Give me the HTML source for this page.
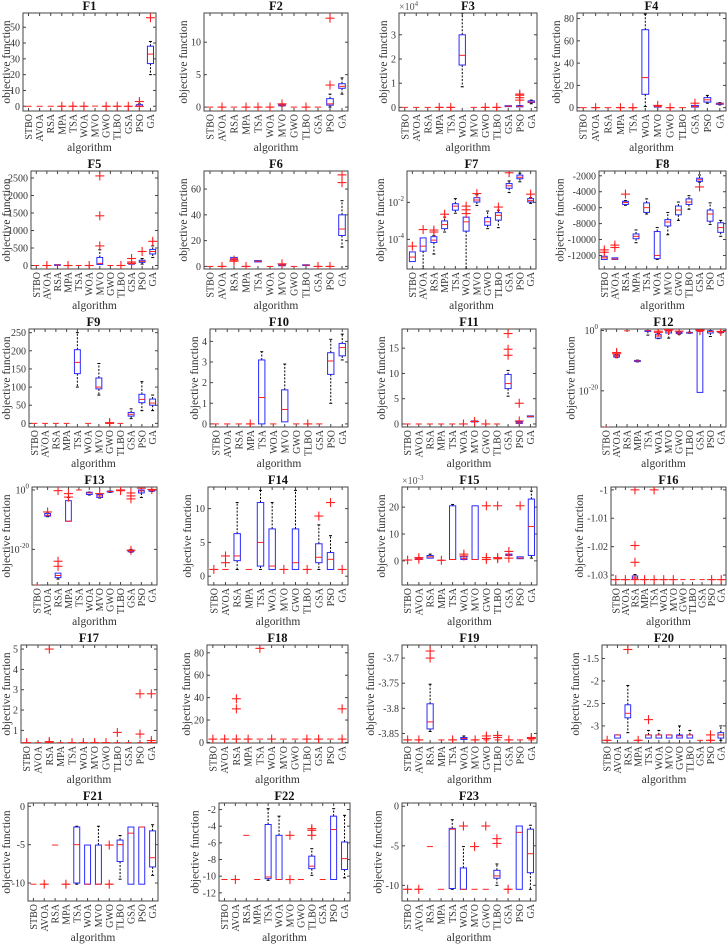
<!DOCTYPE html>
<html><head><meta charset="utf-8"><style>
html,body{margin:0;padding:0;background:#fff;}
svg{display:block;}
svg text{font-family:"Liberation Serif","Times New Roman",serif;}
</style></head><body>
<svg id="fig" width="728" height="944" viewBox="0 0 728 944" font-family="Liberation Serif, serif"></svg>
<script>
const algorithms=['STBO','AVOA','RSA','MPA','TSA','WOA','MVO','GWO','TLBO','GSA','PSO','GA'];
const panelTitles=['F1','F2','F3','F4','F5','F6','F7','F8','F9','F10','F11','F12','F13','F14','F15','F16','F17','F18','F19','F20','F21','F22','F23'];
const logScale=[0,0,0,0,0,0,1,0,0,0,0,1,1,0,0,0,0,0,0,0,0,0,0];
const yLimits=[[-3,59],[-0.6,14.5],[-0.15,3.9],[-3,85],[-100,2700],[-2,74],[2.5e-6,0.5],[-13700,-1400],[-10,260],[-0.15,4.6],[-0.6,18.8],[1e-32,3.2],[1e-32,10],[-1.3,13.2],[-9,27.5],[-1.0335,-0.999],[0.38,5.2],[-0.5,87],[-3.869,-3.674],[-3.38,-1.2],[-12.34,0.43],[-12.98,-1.22],[-11.98,0.41]];
const yTicks=[[0,10,20,30,40,50],[0,5,10],[0,1,2,3],[0,20,40,60,80],[0,500,1000,1500,2000,2500],[0,20,40,60],[1e-4,1e-2],[-12000,-10000,-8000,-6000,-4000,-2000],[0,50,100,150,200,250],[0,1,2,3,4],[0,5,10,15],[1e-20,1],[1e-20,1],[0,5,10],[0,10,20],[-1.03,-1.02,-1.01,-1],[1,2,3,4,5],[0,20,40,60,80],[-3.85,-3.8,-3.75,-3.7],[-3,-2.5,-2,-1.5],[-10,-5,0],[-12,-10,-8,-6,-4,-2],[-10,-5,0]];
const yTickLabels=[null,null,null,null,null,null,[['10','-4'],['10','-2']],null,null,null,null,[['10','-20'],['10','0']],[['10','-20'],['10','0']],null,null,null,null,null,null,null,null,null,null];
const exponentLabels=[null,null,'4',null,null,null,null,null,null,null,null,null,null,null,'-3',null,null,null,null,null,null,null,null];
const N=null;
const medians=[
[0,0,0,0,0,0,0.1,0,0,0,0,33],
[0,0,0,0,0,0,0.3,0,0,0,0.5,3.2],
[0,0,0,0,0,2.15,0,0,0,0.05,0.04,0.22],
[0,0,0,0,0,27,1,0,0,1,7,3.5],
[0,0,15,0,0,0,60,0,0,50,120,400],
[0,0,6,0,4,0,1,0,1,0,0,29],
[1.1e-5,4.3e-5,9.1e-5,6.3e-4,6.3e-3,8.9e-4,1.35e-2,8.9e-4,2e-3,7.9e-2,2.3e-1,1.25e-2],
[-12300,-12450,-5350,-9600,-6000,-12000,-7800,-6300,-5300,-2500,-6800,-8500],
[0,0,0,0,168,0,100,0,0,25,66,56],
[0,0,0,0,1.28,0,0.7,0,0,0,3.05,3.7],
[0,0,0,0,0,0,0.5,0,0,8,0.2,1.5],
[1e-32,4e-9,0.8,8e-11,0.9,1.5e-2,0.6,0.16,0.2,0.5,0.5,0.3],
[1e-32,3e-9,1.6e-29,3e-11,1,0.1,0.01,0.3,0.6,3e-21,0.5,0.6],
[1,1,3,1,5,1.5,1,2,1,2.8,2.5,1],
[0.3,0.8,1.5,0.2,0.5,0.8,0.5,0.5,0.8,2.2,1,12.8],
[-1.0316,-1.0316,-1.031,-1.0316,-1.0316,-1.0316,-1.0316,-1.0316,-1.0316,-1.0316,-1.0316,-1.0316],
[0.398,0.398,0.398,0.398,0.398,0.398,0.398,0.398,0.398,0.398,0.398,0.398],
[3,3,3,3,3,3,3,3,3,3,3,3],
[-3.8628,-3.8628,-3.827,-3.8628,-3.8628,-3.860,-3.8628,-3.8628,-3.8628,-3.8628,-3.8628,-3.8628],
[-3.32,-3.2,-2.72,-3.32,-3.2,-3.2,-3.2,-3.22,-3.2,-3.32,-3.32,-3.2],
[-10.15,-10.15,-5.05,-10.15,-5,-10.15,-10.15,-10.15,-5,-3.5,-2.7,-6.7],
[-10.4,-10.4,-5.1,-10.4,-10.1,-10.4,-10.4,-10.4,-8.8,-10.4,-4.4,-7.9],
[-10.5,-10.5,-5.1,-10.5,-2.9,-10.5,-10.5,-10.5,-8.8,-10.5,-3.3,-6]];
const q1s=[
[N,N,N,N,N,N,N,N,N,N,0,27],
[N,N,N,N,N,N,0.2,N,N,N,0.3,2.9],
[N,N,N,N,N,1.75,N,N,N,0.03,0.02,0.2],
[N,N,N,N,N,12,0.5,N,N,0.5,5,3],
[N,N,10,N,N,N,30,N,N,40,90,330],
[N,N,5.5,N,3.5,N,0.5,N,0.7,N,N,24],
[6.3e-6,2.3e-5,6.8e-5,3.8e-4,3.8e-3,2.8e-4,1.05e-2,5.8e-4,1.1e-3,5.8e-2,1.9e-1,1.05e-2],
[-12500,-12500,-5600,-9900,-6600,-12400,-8300,-6900,-5600,-2700,-7700,-9100],
[N,N,N,N,137,N,95,N,N,20,57,50],
[N,N,N,N,0,N,0.1,N,N,N,2.4,3.3],
[N,N,N,N,N,N,0.4,N,N,7,0.1,1.4],
[N,1.6e-9,N,5e-11,0.5,3e-3,0.15,0.1,0.15,3e-21,0.15,0.2],
[N,1.6e-9,3e-30,3e-11,N,0.03,3e-3,0.2,N,1.5e-21,0.1,0.4],
[N,N,2.3,N,1.5,1,N,1,N,2,1,N],
[N,0.5,1,N,0.5,0.5,0.5,N,N,2,0.8,2],
[N,N,-1.0315,N,N,N,N,N,N,N,N,N],
[N,N,N,N,N,N,N,N,N,N,N,N],
[N,N,N,N,N,N,N,N,N,N,N,N],
[N,N,-3.841,N,N,-3.862,N,N,N,N,N,N],
[N,-3.27,-2.82,N,-3.27,-3.27,-3.27,-3.27,-3.27,N,N,-3.27],
[N,N,N,N,-10,-10.15,-10.15,N,-7.2,-10.15,-10.15,-7.9],
[N,N,N,N,-10.3,-10.4,N,N,-9.1,N,-10.4,-9.2],
[N,N,N,N,-10.4,-10.5,N,N,-9.1,N,-10.5,-8.4]];
const q3s=[
[N,N,N,N,N,N,N,N,N,N,1,38],
[N,N,N,N,N,N,0.4,N,N,N,1.3,3.6],
[N,N,N,N,N,3.0,N,N,N,0.07,0.07,0.27],
[N,N,N,N,N,70,1.5,N,N,2,9,4],
[N,N,25,N,N,N,230,N,N,60,150,460],
[N,N,7,N,4.5,N,1.5,N,1.3,N,N,40],
[2.1e-5,1.2e-4,1.4e-4,1e-3,8.5e-3,1.6e-3,1.8e-2,1.5e-3,2.8e-3,1.05e-1,3e-1,1.6e-2],
[-12100,-12300,-5200,-9300,-5400,-9000,-7500,-5800,-4900,-2300,-6300,-7900],
[N,N,N,N,203,N,125,N,N,30,80,67],
[N,N,N,N,3.1,N,1.65,N,N,N,3.45,3.9],
[N,N,N,N,N,N,0.6,N,N,9.8,0.4,1.6],
[N,8e-9,N,1.2e-10,1,6e-2,0.8,0.3,0.25,0.6,0.8,0.4],
[N,1.2e-8,1e-28,2.5e-4,N,0.16,0.03,0.4,N,6e-21,1,1],
[N,N,6.3,N,10.9,7,N,7,N,4.8,3.5,N],
[N,1,2,N,20.5,1.5,20.5,N,N,2.5,1.5,23],
[N,N,-1.0303,N,N,N,N,N,N,N,N,N],
[N,N,N,N,N,N,N,N,N,N,N,N],
[N,N,N,N,N,N,N,N,N,N,N,N],
[N,N,-3.791,N,N,-3.858,N,N,N,N,N,N],
[N,-3.2,-2.53,N,-3.2,-3.2,-3.2,-3.2,-3.2,N,N,-3.15],
[N,N,N,N,-2.7,-5.05,-5.05,N,-4.4,-2.7,-2.7,-3.2],
[N,N,N,N,-3.8,-5.1,N,N,-7.6,N,-2.8,-5.9],
[N,N,N,N,-2.8,-7.8,N,N,-8.1,N,-2.5,-2.9]];
const whiskLo=[
[N,N,N,N,N,N,N,N,N,N,0,20],
[N,N,N,N,N,N,0.15,N,N,N,0,2],
[N,N,N,N,N,0.85,N,N,N,0.03,0.02,0.15],
[N,N,N,N,N,1,0.5,N,N,0.5,4,2.5],
[N,N,10,N,N,N,30,N,N,40,40,230],
[N,N,5.5,N,3.5,N,0.5,N,0.7,N,N,15],
[6.3e-6,2.5e-6,1.6e-5,2.5e-4,2.6e-3,2.5e-6,6.9e-3,3.8e-4,4.3e-4,3.4e-2,1.3e-1,8.9e-3],
[-12500,-12500,-5700,-10400,-6800,-12500,-9400,-7600,-6200,-2800,-8100,-9600],
[N,N,N,N,100,N,78,N,N,13,35,35],
[N,N,N,N,0,N,0.1,N,N,N,1,3.1],
[N,N,N,N,N,N,0.4,N,N,5.5,0.1,1.4],
[N,1e-9,N,4e-11,0.03,2e-3,3e-3,0.05,0.12,3e-21,0.01,0.15],
[N,1e-9,1e-30,3e-11,N,0.02,2e-3,0.15,N,1e-21,3e-3,0.3],
[N,N,1,N,1,1,N,1,N,1,1,N],
[N,0.5,1,N,0.5,0.5,0.5,N,N,2,0.8,1],
[N,N,-1.0316,N,N,N,N,N,N,N,N,N],
[N,N,N,N,N,N,N,N,N,N,N,N],
[N,N,N,N,N,N,N,N,N,N,N,N],
[N,N,-3.846,N,N,-3.862,N,N,N,N,N,N],
[N,-3.27,-3.15,N,-3.27,-3.27,-3.27,-3.27,-3.27,N,N,-3.32],
[N,N,N,N,-10.15,-10.15,-10.15,N,-9.5,-10.15,-10.15,-9],
[N,N,N,N,-10.5,-10.4,N,N,-9.9,N,-10.4,-10.2],
[N,N,N,N,-10.5,-10.5,N,N,-10,N,-10.5,-10.5]];
const whiskHi=[
[N,N,N,N,N,N,N,N,N,N,1.5,41],
[N,N,N,N,N,N,0.5,N,N,N,2,4.5],
[N,N,N,N,N,3.9,N,N,N,0.07,0.08,0.3],
[N,N,N,N,N,84,1.5,N,N,2,11,4.5],
[N,N,25,N,N,N,450,N,N,60,200,560],
[N,N,7,N,4.5,N,1.5,N,1.3,N,N,51],
[2.1e-5,1.2e-4,1.6e-4,1.6e-3,1.6e-2,1.6e-3,2.6e-2,3.4e-3,3.8e-3,1.45e-1,3.8e-1,1.8e-2],
[-12100,-12300,-5100,-8800,-4900,-8500,-6600,-5300,-4500,-1900,-5400,-7600],
[N,N,N,N,250,N,165,N,N,40,115,78],
[N,N,N,N,3.5,N,2.9,N,N,N,4.1,4.35],
[N,N,N,N,N,N,0.6,N,N,10.6,0.4,1.6],
[N,1.2e-8,N,1.5e-10,1,0.1,1,0.4,0.3,0.6,1,0.5],
[N,1.5e-8,1e-28,3e-3,N,0.2,0.05,0.5,N,1e-20,1,1],
[N,N,10.9,N,12.7,10.9,N,12.7,N,7.6,6,N],
[N,1.2,2.5,N,21,1.8,20.5,N,N,2.5,1.5,26],
[N,N,-1.0298,N,N,N,N,N,N,N,N,N],
[N,N,N,N,N,N,N,N,N,N,N,N],
[N,N,N,N,N,N,N,N,N,N,N,N],
[N,N,-3.752,N,N,-3.855,N,N,N,N,N,N],
[N,-3.2,-2.1,N,-3.1,-3.1,-3.2,-3.0,-3.1,N,N,-3.0],
[N,N,N,N,-2.6,-5.05,-2.6,N,-3.8,-2.7,-2.7,-2.4],
[N,N,N,N,-1.9,-2.8,N,N,-6.7,N,-1.9,-2.7],
[N,N,N,N,-1.7,-5.1,N,N,-7.3,N,-2.5,-2.4]];
const outliers=[
[[],[],[],[0],[0],[0],[],[0],[0],[0],[0,3],[56]],
[[],[0],[],[0],[0],[0],[0.5],[],[0],[],[3.4,13.7],[]],
[[],[],[],[0],[0],[],[],[0],[0],[],[0.3,0.4,0.5,0.55],[]],
[[],[0],[],[0],[0],[],[2],[0],[],[4],[],[]],
[[],[0],[],[0],[],[0],[560,1420,2560],[],[0],[60,100,200],[400],[690]],
[[],[0],[4,5],[0],[],[],[2],[],[],[0],[0],[65,71]],
[[4.3e-5],[3.4e-4],[2.5e-4,3.2e-4],[2.3e-3],[],[2.5e-3,4e-3,6.3e-3],[3e-2],[],[5.6e-3],[4e-1],[],[2.8e-2]],
[[-11300,-11600],[-10700,-11000],[-4300],[],[],[],[],[],[],[-3400],[],[]],
[[],[],[],[],[],[],[],[0,2],[],[],[],[]],
[[],[],[],[0],[],[],[],[],[0],[],[],[]],
[[],[],[],[],[],[0],[0.5],[0],[],[13.6,14.8,17.9],[0.6,4.1],[]],
[[],[2e-8,5e-8],[],[],[],[0.25,0.6],[1.5,2],[0.6],[],[0.9,1.2,1.5],[],[0.5]],
[[],[4e-8],[1e-24,2e-26,0.6],[0.06,4e-3],[],[],[0.06],[],[1,0.6],[5e-21,0.1,0.01,1e-3],[4],[1.5]],
[[1],[2,3],[],[],[],[],[1],[],[1],[8.9],[10.9],[1]],
[[0.3],[1.2,0.6],[],[0.2],[],[1.8,2.5],[],[20.5,0.5,1.2],[20.5,0.8,1.2],[3.5,1],[20.5],[]],
[[-1.0316],[-1.0316],[-1.0,-1.0196,-1.0255,-1.0316],[-1.0316],[-1.0,-1.0316],[-1.0316],[-1.0316],[],[],[],[-1.0316],[-1.0316]],
[[0.398],[],[0.45,5.0,0.398],[],[0.398],[0.398],[0.398],[0.398],[0.9],[],[0.82,2.8],[0.5,2.8,0.4]],
[[3],[3],[3,30,39],[3],[84],[3],[],[],[3],[3],[],[3,30]],
[[-3.8628],[-3.8628],[-3.70,-3.686],[],[-3.8628],[],[-3.8628],[-3.855,-3.860],[-3.854,-3.858],[-3.8628],[],[-3.86,-3.858]],
[[-3.32],[],[-1.3],[-3.32],[-2.86],[],[],[],[],[],[-3.32,-3.2],[]],
[[],[-10.15],[],[-10.15],[],[],[],[-5.05,-10.15],[],[],[],[]],
[[],[-10.4],[],[],[],[],[-5.1,-10.4],[],[-5.1,-4.3,-4.5],[],[],[]],
[[-10.5],[-10.5],[],[],[],[-2.5],[-5.1],[-2.5],[-4.1,-4.7],[-10.5],[],[]]];

// layout (not data)
const axLeft=[23,204,399,577,31,204,407,599,29,210,402,601,32,208,402,611,21,207,402,602,28,219,402];
const axRight=[156,348,537,726,158,348,536,726,158,348,536,726,157,348,537,726,157,348,537,726,158,350,536];
const rowTop=[13,171,329,487,645,803];
const AXH=98;
const FF='Liberation Serif, Times New Roman, serif';
const NS='http://www.w3.org/2000/svg';
const svg=document.getElementById('fig');
function mk(tag,attrs,parent){const e=document.createElementNS(NS,tag);for(const k in attrs)e.setAttribute(k,attrs[k]);if(tag==='text')e.setAttribute('font-family',FF);(parent||svg).appendChild(e);return e;}
function fmt(v){return String(Math.round(v*10000)/10000);}

for(let p=0;p<23;p++){
  const g=mk('g',{});
  
  
  const L=axLeft[p],R=axRight[p],T=rowTop[Math.floor(p/4)],B=T+AXH;
  const lg=logScale[p];
  const [lo,hi]=yLimits[p];
  const yS=v=>{ if(lg){const a=Math.log10(lo),b=Math.log10(hi);return B-(Math.log10(Math.max(v,1e-300))-a)/(b-a)*AXH;} return B-(v-lo)/(hi-lo)*AXH;};
  const slot=(R-L)/12;
  const xS=i=>L+(i+0.5)*slot;
  const bw=slot*0.55;
  const box=mk('rect',{x:L,y:T,width:R-L,height:AXH,fill:'#fff',stroke:'#444','stroke-width':1},g);
  
  
  const t=mk('text',{x:(L+R)/2,y:T-3,'text-anchor':'middle','font-size':12.5,'font-weight':'bold',fill:'#111'},g);
  t.textContent=panelTitles[p];
  
  
  let minX=L;
  yTicks[p].forEach((v,k)=>{
    const y=yS(v);
    mk('line',{x1:L,x2:L+3,y1:y,y2:y,stroke:'#444'},g);
    mk('line',{x1:R,x2:R-3,y1:y,y2:y,stroke:'#444'},g);
    const tx=mk('text',{x:L-3,y:y+3.5,'text-anchor':'end','font-size':10,fill:'#333'},g);
    
    
    if(yTickLabels[p]){const lb=yTickLabels[p][k];tx.textContent=lb[0];const s=mk('tspan',{'font-size':7,dy:-5},tx);s.textContent=lb[1];}
    else tx.textContent=fmt(v);
    const bb=tx.getBBox(); if(bb.x<minX)minX=bb.x;
  });
  if(exponentLabels[p]){
    const ex=mk('text',{x:L,y:T-3,'font-size':10,fill:'#555'},g);
    ex.textContent='\u00d710';
    const s=mk('tspan',{'font-size':7,dy:-4},ex);s.textContent=exponentLabels[p];
    
    
  }
  const yl=mk('text',{x:0,y:0,'text-anchor':'middle','font-size':11.5,fill:'#333',transform:`translate(${Math.max(minX-4,10)},${T+AXH/2}) rotate(-90)`},g);
  yl.textContent='objective function';
  
  
  algorithms.forEach((a,i)=>{
    const x=xS(i);
    mk('line',{x1:x,x2:x,y1:B,y2:B-3,stroke:'#444'},g);
    mk('line',{x1:x,x2:x,y1:T,y2:T+3,stroke:'#444'},g);
    const tx=mk('text',{x:0,y:0,'text-anchor':'end','font-size':10,fill:'#333',transform:`translate(${x+3.5},${B+3}) rotate(-90)`},g);
    tx.textContent=a;
    
    
  });
  const xl=mk('text',{x:(L+R)/2,y:B+40,'text-anchor':'middle','font-size':11.5,fill:'#333'},g);
  xl.textContent='algorithm';
  
  
  const clip=mk('clipPath',{id:'c'+p},g);mk('rect',{x:L,y:T,width:R-L,height:AXH},clip);
  const pg=mk('g',{'clip-path':`url(#c${p})`},g);
  algorithms.forEach((a,i)=>{
    const x=xS(i);
    const bg=mk('g',{},pg);
    
    
    const q1=q1s[p][i],q3=q3s[p][i],wl=whiskLo[p][i],wh=whiskHi[p][i];
    if(q1!==null){
      if(wh!==null&&wh>q3){mk('line',{x1:x,x2:x,y1:yS(q3),y2:yS(wh),stroke:'#000','stroke-dasharray':'2,1.5'},bg);mk('line',{x1:x-1.5,x2:x+1.5,y1:yS(wh),y2:yS(wh),stroke:'#000'},bg);}
      if(wl!==null&&wl<q1){mk('line',{x1:x,x2:x,y1:yS(q1),y2:yS(wl),stroke:'#000','stroke-dasharray':'2,1.5'},bg);mk('line',{x1:x-1.5,x2:x+1.5,y1:yS(wl),y2:yS(wl),stroke:'#000'},bg);}
      const y3=yS(q3),y1=yS(q1);
      mk('rect',{x:x-bw/2,y:y3,width:bw,height:Math.max(y1-y3,0.8),fill:'none',stroke:'#2a2aff','stroke-width':1},bg);
    }
    const ym=yS(medians[p][i]);
    mk('line',{x1:x-bw/2,x2:x+bw/2,y1:ym,y2:ym,stroke:'#ff2020','stroke-width':1},bg);
    outliers[p][i].forEach(v=>{
      const y=yS(v);
      const o=mk('g',{},bg);
      
      
      mk('line',{x1:x-4.5,x2:x+4.5,y1:y,y2:y,stroke:'#ff2020','stroke-width':1.1},o);
      mk('line',{x1:x,x2:x,y1:y-4.5,y2:y+4.5,stroke:'#ff2020','stroke-width':1.1},o);
    });
  });
}
</script>
</body></html>
